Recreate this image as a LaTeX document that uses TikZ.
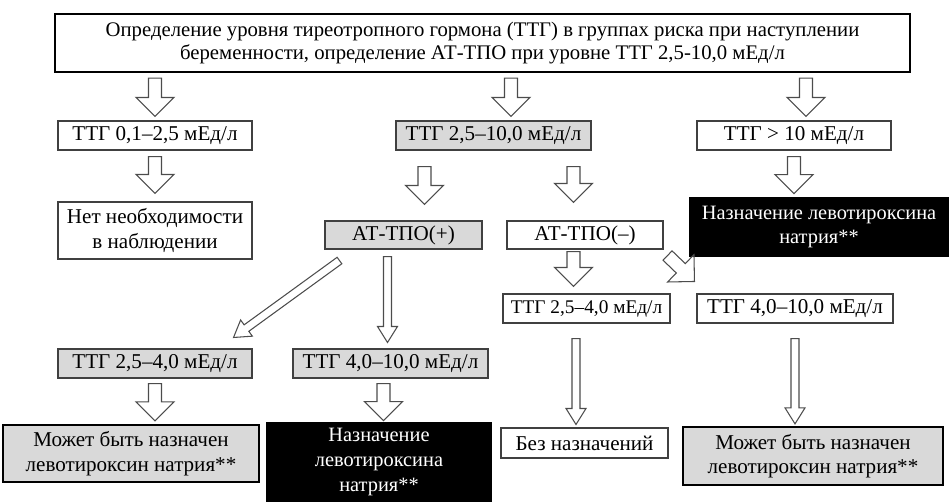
\documentclass[tikz,border=0pt]{standalone}
\usepackage{fontspec}
\setmainfont{Liberation Serif}
\usetikzlibrary{calc}
\definecolor{boxgrey}{HTML}{D9D9D9}

\tikzset{
  box/.style={draw=black!75, line width=0.6pt, inner sep=1pt, minimum height=0.58cm, align=center, font=\fontsize{12}{14}\selectfont},
  greybox/.style={box, fill=boxgrey},
  bigbox/.style={draw=black, line width=1.3pt, fill=boxgrey, inner sep=1pt, align=center, font=\fontsize{12}{14}\selectfont},
  blackbox/.style={fill=black, text=white, inner sep=1pt, align=center, font=\fontsize{11.6}{14}\selectfont},
  arr/.style={draw=black!70, line width=0.6pt, line join=miter},
}

% hollow block arrow: start, end, shaft half width, head half width, head length
\newcommand{\blockarrow}[5]{%
  \coordinate (ba-s) at #1;
  \coordinate (ba-e) at #2;
  \coordinate (ba-b) at ($(ba-e)!#5!(ba-s)$);
  \draw[arr] ($(ba-s)!#3!90:(ba-e)$) -- ($(ba-b)!#3!90:(ba-e)$) -- ($(ba-b)!#4!90:(ba-e)$)
    -- (ba-e) -- ($(ba-b)!#4!-90:(ba-e)$) -- ($(ba-b)!#3!-90:(ba-e)$) -- ($(ba-s)!#3!-90:(ba-e)$) -- cycle;
}
\newcommand{\fatarrow}[2]{\blockarrow{#1}{#2}{0.13cm}{0.38cm}{0.38cm}}
\newcommand{\thinarrow}[2]{\blockarrow{#1}{#2}{0.08cm}{0.2cm}{0.32cm}}

\begin{document}
\begin{tikzpicture}

\useasboundingbox (0,0) rectangle (19,10.06);

% Screening box
\node[box, draw=black, line width=1.3pt, minimum width=17.1cm, minimum height=1.16cm, font=\fontsize{11.8}{13.6}\selectfont] (top) at (9.65,9.20)
  {Определение уровня тиреотропного гормона (ТТГ) в группах риска при наступлении\\беременности, определение АТ-ТПО при уровне ТТГ 2,5-10,0 мЕд/л};

% TSH levels
\node[box, minimum width=3.88cm] (low) at (3.10,7.35) {ТТГ 0,1–2,5 мЕд/л};
\node[greybox, minimum width=3.90cm] (mid) at (9.87,7.35) {ТТГ 2,5–10,0 мЕд/л};
\node[box, minimum width=3.88cm] (high) at (15.88,7.35) {ТТГ > 10 мЕд/л};

% Second row
\node[box, minimum width=3.88cm, minimum height=1.14cm] (noneed) at (3.10,5.45) {Нет необходимости\\в наблюдении};
\node[greybox, minimum width=3.14cm, minimum height=0.56cm] (atpos) at (8.07,5.36) {АТ-ТПО(+)};
\node[box, minimum width=3.12cm, minimum height=0.56cm] (atneg) at (11.70,5.36) {АТ-ТПО(–)};
\node[blackbox, minimum width=5.20cm, minimum height=1.20cm] (treatR) at (16.38,5.52) {Назначение левотироксина\\натрия**};

% Third row
\node[box, minimum width=3.34cm, font=\fontsize{11}{13}\selectfont] (neglow) at (11.73,3.89) {ТТГ 2,5–4,0 мЕд/л};
\node[box, minimum width=3.92cm] (neghigh) at (15.90,3.89) {ТТГ 4,0–10,0 мЕд/л};
\node[greybox, minimum width=3.88cm] (poslow) at (3.10,2.79) {ТТГ 2,5–4,0 мЕд/л};
\node[greybox, minimum width=3.90cm] (poshigh) at (7.81,2.79) {ТТГ 4,0–10,0 мЕд/л};

% Outcomes
\node[bigbox, minimum width=5.12cm, minimum height=1.14cm] (maybeL) at (2.62,0.99) {Может быть назначен\\левотироксин натрия**};
\node[blackbox, minimum width=4.52cm, minimum height=1.60cm] (treatL) at (7.58,0.82) {Назначение\\левотироксина\\натрия**};
\node[box, minimum width=3.34cm, minimum height=0.60cm] (nothing) at (11.69,1.20) {Без назначений};
\node[bigbox, minimum width=5.20cm, minimum height=1.16cm] (maybeR) at (16.26,0.94) {Может быть назначен\\левотироксин натрия**};

% Fat arrows
\fatarrow{($(low.north |- top.south)+(0,-0.1)$)}{($(low.north)+(0,0.08)$)}
\fatarrow{($(mid.north |- top.south)+(0.35,-0.1)$)}{($(mid.north)+(0.35,0.08)$)}
\fatarrow{($(high.north |- top.south)+(0.24,-0.1)$)}{($(high.north)+(0.24,0.08)$)}
\fatarrow{($(low.south)+(0,-0.12)$)}{($(noneed.north)+(0,0.16)$)}
\fatarrow{($(atpos.north |- mid.south)+(0.42,-0.32)$)}{($(atpos.north)+(0.42,0.32)$)}
\fatarrow{($(atneg.north |- mid.south)+(-0.23,-0.32)$)}{($(atneg.north)+(-0.23,0.36)$)}
\fatarrow{($(high.south)+(0,-0.12)$)}{($(high.south |- treatR.north)+(0,0.06)$)}
\fatarrow{($(atneg.south)+(-0.23,-0.04)$)}{($(atneg.south |- neglow.north)+(-0.23,0.14)$)}
\fatarrow{($(atneg.south east)+(0.08,-0.12)$)}{($(neghigh.north west)+(-0.04,0.24)$)}
\fatarrow{($(poslow.south)+(0,-0.10)$)}{($(poslow.south |- maybeL.north)+(0,0.06)$)}
\fatarrow{($(poshigh.south)+(-0.14,-0.10)$)}{($(poshigh.south |- treatL.north)+(-0.14,0.02)$)}

% Thin arrows
\thinarrow{($(atpos.south west)+(0.30,-0.22)$)}{($(poslow.north east)+(-0.38,0.22)$)}
\thinarrow{($(atpos.south)+(-0.32,-0.14)$)}{($(atpos.south |- poshigh.north)+(-0.32,0.12)$)}
\thinarrow{($(neglow.south)+(-0.21,-0.30)$)}{($(neglow.south |- nothing.north)+(-0.21,0.06)$)}
\thinarrow{($(neghigh.south)+(0,-0.30)$)}{($(neghigh.south |- maybeR.north)+(0,0.04)$)}

\end{tikzpicture}
\end{document}
